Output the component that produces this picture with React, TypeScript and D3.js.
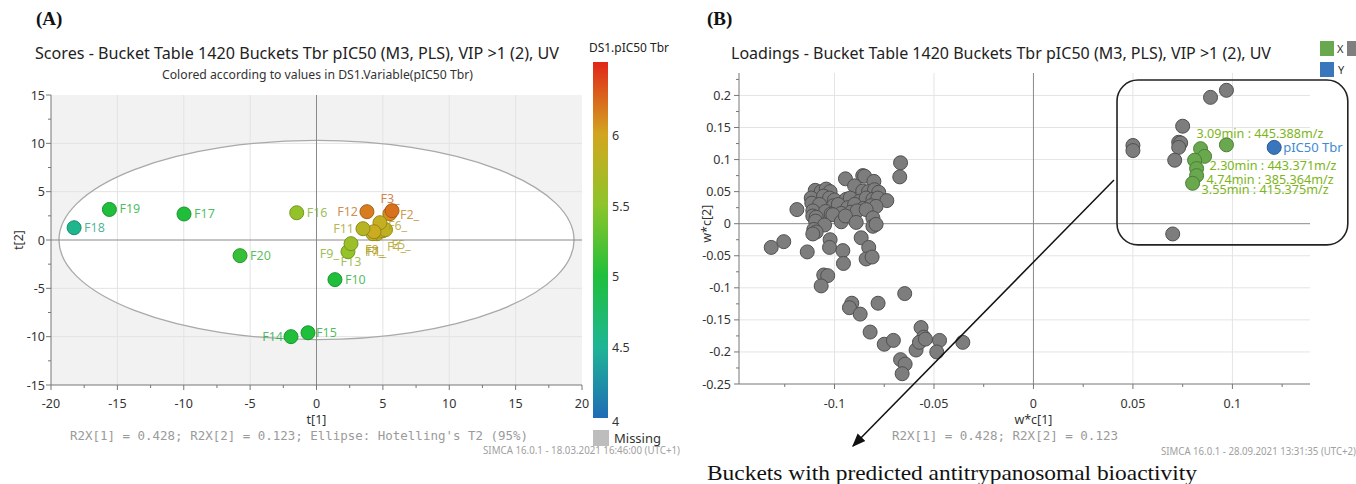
import React from 'react';
import * as d3 from 'd3';

// ---------- Panel A: scores ----------
const scoreNames = ['F1_', 'F2_', 'F3_', 'F4_', 'F5_', 'F6_', 'F7_', 'F8_', 'F9_', 'F10', 'F11', 'F12', 'F13', 'F14', 'F15', 'F16', 'F17', 'F18', 'F19', 'F20'];
const scoreT1 = [4.56, 5.53, 5.69, 5.0, 5.2, 4.78, 4.25, 4.33, 2.37, 1.39, 3.5, 3.8, 2.6, -1.92, -0.64, -1.49, -9.98, -18.26, -15.6, -5.76];
const scoreT2 = [0.65, 2.72, 3.03, 0.96, 1.07, 1.79, 0.65, 0.86, -1.21, -4.1, 1.17, 2.93, -0.38, -10.0, -9.6, 2.82, 2.69, 1.27, 3.16, -1.62];
const scorePIC50 = [5.85, 6.1, 6.22, 5.9, 5.85, 5.9, 5.85, 5.95, 5.55, 5.0, 5.8, 6.17, 5.6, 5.0, 5.0, 5.55, 5.0, 4.55, 5.0, 5.1];
// label placement (style only)
const labelDx = [-10, 10, -2, 4, 6, 8, -8, -9, -9, 10, -9, -9, 0, -8, 8, 10, 10, 10, 10, 10];
const labelDy = [22, 5, -8, 20, 19, 7, 22, 22, 6, 4, 4, 4, 22, 4, 4, 4, 4, 4, 4, 4];
const labelAnchor = ['start', 'start', 'middle', 'start', 'start', 'start', 'start', 'start', 'end', 'start', 'end', 'end', 'middle', 'end', 'start', 'start', 'start', 'start', 'start', 'start'];

const axisTicksA = [-20, -15, -10, -5, 0, 5, 10, 15, 20];
const yTicksA = [-15, -10, -5, 0, 5, 10, 15];
const ellipseRadii = [19.4, 10.3];

const colorStops = [4, 4.5, 5, 5.5, 6, 6.52];
const colorRange = ['#1f6cb6', '#1fb596', '#1fbf3c', '#8cc52a', '#d2a81f', '#e0261a'];
const colorTicks = [4, 4.5, 5, 5.5, 6];

// ---------- Panel B: loadings ----------
const grayLoadings: [number, number][] = [
  [-0.0668, 0.095], [-0.0672, 0.073],
  [-0.0945, 0.070], [-0.0858, 0.075], [-0.0849, 0.074], [-0.0802, 0.066], [-0.0899, 0.059],
  [-0.1097, 0.052], [-0.1067, 0.050], [-0.1042, 0.054], [-0.1022, 0.050], [-0.0858, 0.051], [-0.0829, 0.050], [-0.0799, 0.053], [-0.0778, 0.049],
  [-0.1117, 0.040], [-0.1055, 0.043], [-0.1025, 0.040], [-0.1000, 0.037], [-0.0941, 0.038], [-0.0921, 0.040], [-0.0874, 0.035], [-0.0841, 0.040], [-0.0807, 0.038], [-0.0782, 0.040], [-0.0737, 0.036],
  [-0.1114, 0.032], [-0.1075, 0.030], [-0.1005, 0.028], [-0.0981, 0.030], [-0.0933, 0.025], [-0.0899, 0.030], [-0.0854, 0.024], [-0.0816, 0.028], [-0.0791, 0.027],
  [-0.1189, 0.022], [-0.1109, 0.020], [-0.1045, 0.019], [-0.1017, 0.015], [-0.0966, 0.016], [-0.0916, 0.018], [-0.0886, 0.020], [-0.0841, 0.022],
  [-0.1109, 0.012], [-0.1092, 0.010], [-0.1008, 0.014], [-0.0966, 0.003], [-0.0945, 0.012], [-0.0891, 0.002], [-0.0807, 0.009],
  [-0.1095, 0.004], [-0.1050, -0.002], [-0.0807, -0.004], [-0.0791, -0.001],
  [-0.1104, -0.009], [-0.1092, -0.013], [-0.1109, -0.016],
  [-0.1318, -0.037], [-0.1255, -0.028], [-0.1137, -0.044],
  [-0.1022, -0.025], [-0.1025, -0.037], [-0.0958, -0.042], [-0.0955, -0.062], [-0.0866, -0.022], [-0.0828, -0.037], [-0.0841, -0.055], [-0.0811, -0.052],
  [-0.1054, -0.080], [-0.1034, -0.081], [-0.1067, -0.097],
  [-0.0913, -0.124], [-0.0925, -0.131], [-0.0871, -0.141], [-0.0781, -0.124], [-0.0647, -0.109],
  [-0.0821, -0.169], [-0.0750, -0.188], [-0.0704, -0.182],
  [-0.0668, -0.212], [-0.0645, -0.219], [-0.0660, -0.234],
  [-0.0565, -0.162], [-0.0551, -0.177], [-0.0590, -0.197], [-0.0573, -0.185], [-0.0543, -0.180], [-0.0472, -0.182], [-0.0486, -0.200], [-0.0355, -0.185],
  [0.097, 0.208], [0.089, 0.197], [0.075, 0.152], [0.073, 0.127], [0.074, 0.126], [0.073, 0.119], [0.071, 0.099], [0.050, 0.122], [0.050, 0.114], [0.070, -0.016],
];
const greenLoadings: [number, number][] = [
  [0.097, 0.123], [0.084, 0.117], [0.086, 0.105], [0.081, 0.099], [0.082, 0.086], [0.082, 0.075], [0.080, 0.063],
];
const greenNames = ['3.09min : 445.388m/z', '', '2.30min : 443.371m/z', '', '4.74min : 385.364m/z', '', '3.55min : 415.375m/z'];
const greenDx = [-30, 0, 5, 0, 10, 0, 9];
const greenDy = [-7, 0, 14, 0, 15, 0, 11];
const yLoading: [number, number] = [0.121, 0.119];
const yLoadingName = 'pIC50 Tbr';

const xTicksB = [-0.1, -0.05, 0, 0.05, 0.1];
const yTicksB = [-0.25, -0.2, -0.15, -0.1, -0.05, 0, 0.05, 0.1, 0.15, 0.2];
const highlightBox = [0.042, 0.158, 0.224, -0.033];

const SANS = '"Noto Sans", "Open Sans", sans-serif';
const MONO = '"DejaVu Sans Mono", "Liberation Mono", monospace';
const SERIF = '"Liberation Serif", "DejaVu Serif", serif';

const fmt = (v: number) => String(+v.toFixed(3));

const App: React.FC = () => {
  // Panel A scales
  const xA = d3.scaleLinear().domain([-20, 20]).range([51, 582]);
  const yA = d3.scaleLinear().domain([-15, 15]).range([385, 95]);
  const color = d3.scaleLinear<string>().domain(colorStops).range(colorRange).interpolate(d3.interpolateRgb);
  const cbY = d3.scaleLinear().domain([4, 6.52]).range([418, 62]);

  // Panel B scales
  const xB = d3.scaleLinear().domain([-0.148, 0.139]).range([739, 1310]);
  const yB = d3.scaleLinear().domain([-0.25, 0.235]).range([384, 73]);

  const minorA = d3.range(-20, 20.01, 2.5);
  const minorAy = d3.range(-15, 15.01, 2.5);
  const minorBx = d3.range(-0.125, 0.139, 0.025);
  const minorBy = d3.range(-0.25, 0.236, 0.025);

  const gradStops = d3.range(0, 1.0001, 0.05).map((t) => 4 + t * 2.52);

  const order = d3.range(scoreNames.length);

  return (
    <svg width={1356} height={484} style={{ position: 'absolute', left: 0, top: 0, background: '#fff' }} fontFamily={SANS}>
      <defs>
        <linearGradient id="cb" x1="0" y1="1" x2="0" y2="0">
          {gradStops.map((v, i) => (
            <stop key={i} offset={(v - 4) / 2.52} stopColor={color(v)} />
          ))}
        </linearGradient>
        <marker id="arrowHead" viewBox="0 0 10 10" refX="9" refY="5" markerWidth="9" markerHeight="9" orient="auto">
          <path d="M0,1 L10,5 L0,9 z" fill="#111" />
        </marker>
      </defs>

      {/* ================= Panel A ================= */}
      <text x={36} y={25} fontFamily={SERIF} fontWeight="bold" fontSize={19} fill="#111">(A)</text>
      <text x={35} y={59} fontSize={16.5} fill="#222" textLength={524} lengthAdjust="spacingAndGlyphs">
        Scores - Bucket Table 1420 Buckets Tbr pIC50 (M3, PLS), VIP &gt;1 (2), UV
      </text>
      <text x={162} y={79} fontSize={12} fill="#333" textLength={311} lengthAdjust="spacingAndGlyphs">
        Colored according to values in DS1.Variable(pIC50 Tbr)
      </text>

      <rect x={xA(-20)} y={yA(15)} width={xA(20) - xA(-20)} height={yA(-15) - yA(15)} fill="#f2f2f2" />
      <ellipse cx={xA(0)} cy={yA(0)} rx={xA(ellipseRadii[0]) - xA(0)} ry={yA(0) - yA(ellipseRadii[1])} fill="#fff" />
      {axisTicksA.filter((t) => t !== 0 && Math.abs(t) !== 20).map((t) => (
        <line key={'gx' + t} x1={xA(t)} x2={xA(t)} y1={yA(15)} y2={yA(-15)} stroke="#e3e3e3" />
      ))}
      {yTicksA.filter((t) => t !== 0 && Math.abs(t) !== 15).map((t) => (
        <line key={'gy' + t} y1={yA(t)} y2={yA(t)} x1={xA(-20)} x2={xA(20)} stroke="#e3e3e3" />
      ))}
      <ellipse cx={xA(0)} cy={yA(0)} rx={xA(ellipseRadii[0]) - xA(0)} ry={yA(0) - yA(ellipseRadii[1])} fill="none" stroke="#a9a9a9" strokeWidth={1.3} />
      <line x1={xA(0)} x2={xA(0)} y1={yA(15)} y2={yA(-15)} stroke="#8a8a8a" />
      <line y1={yA(0)} y2={yA(0)} x1={xA(-20)} x2={xA(20)} stroke="#8a8a8a" />

      {/* axes A */}
      <line x1={xA(-20)} x2={xA(-20)} y1={yA(15)} y2={yA(-15)} stroke="#777" />
      <line x1={xA(-20)} x2={xA(20)} y1={yA(-15)} y2={yA(-15)} stroke="#777" />
      {minorAy.map((t) => (
        <line key={'ty' + t} x1={xA(-20) - (t % 5 === 0 ? 5 : 3)} x2={xA(-20)} y1={yA(t)} y2={yA(t)} stroke="#777" />
      ))}
      {minorA.map((t) => (
        <line key={'tx' + t} y1={yA(-15)} y2={yA(-15) + (t % 5 === 0 ? 5 : 3)} x1={xA(t)} x2={xA(t)} stroke="#777" />
      ))}
      {yTicksA.map((t) => (
        <text key={'ly' + t} x={45} y={yA(t) + 4.5} textAnchor="end" fontSize={12.5} fill="#333">{t}</text>
      ))}
      {axisTicksA.map((t) => (
        <text key={'lx' + t} x={xA(t)} y={408} textAnchor="middle" fontSize={12.5} fill="#333">{t}</text>
      ))}
      <text x={xA(0)} y={424} textAnchor="middle" fontSize={12.5} fill="#333">t[1]</text>
      <text transform={`translate(23,${yA(0)}) rotate(-90)`} textAnchor="middle" fontSize={12.5} fill="#333">t[2]</text>

      {/* score points */}
      {order.map((i) => {
        const c = color(scorePIC50[i]);
        return (
          <circle key={'p' + i} cx={xA(scoreT1[i])} cy={yA(scoreT2[i])} r={7} fill={c}
            stroke={d3.color(c)!.darker(0.7).formatHex()} strokeWidth={1} />
        );
      })}
      {order.map((i) => {
        const c = d3.color(color(scorePIC50[i]))!.darker(0.3).formatHex();
        return (
          <text key={'pl' + i} x={xA(scoreT1[i]) + labelDx[i]} y={yA(scoreT2[i]) + labelDy[i]}
            textAnchor={labelAnchor[i] as any} fontSize={12.5} fill={c} fillOpacity={0.8}>{scoreNames[i]}</text>
        );
      })}

      {/* colour bar */}
      <text x={589} y={52} fontSize={12} fill="#222" textLength={80} lengthAdjust="spacingAndGlyphs">DS1.pIC50 Tbr</text>
      <rect x={593} y={cbY(6.52)} width={15} height={cbY(4) - cbY(6.52)} fill="url(#cb)" />
      {colorTicks.map((t) => (
        <text key={'cb' + t} x={612} y={cbY(t) + (t === 4 ? 8 : 4.5)} fontSize={12.5} fill="#333">{t}</text>
      ))}
      <rect x={593} y={430} width={16} height={16} fill="#bdbdbd" />
      <text x={614} y={443} fontSize={13} fill="#333">Missing</text>

      <text x={70} y={440} fontFamily={MONO} fontSize={12.3} fill="#9a9a9a" textLength={458} lengthAdjust="spacingAndGlyphs">
        R2X[1] = 0.428; R2X[2] = 0.123; Ellipse: Hotelling's T2 (95%)
      </text>
      <text x={483} y={454} fontSize={10} fill="#a0a0a0" textLength={197} lengthAdjust="spacingAndGlyphs">
        SIMCA 16.0.1 - 18.03.2021 16:46:00 (UTC+1)
      </text>

      {/* ================= Panel B ================= */}
      <text x={707} y={25} fontFamily={SERIF} fontWeight="bold" fontSize={19} fill="#111">(B)</text>
      <text x={731} y={59} fontSize={16.5} fill="#222" textLength={540} lengthAdjust="spacingAndGlyphs">
        Loadings - Bucket Table 1420 Buckets Tbr pIC50 (M3, PLS), VIP &gt;1 (2), UV
      </text>

      {/* legend */}
      <rect x={1320} y={41} width={14} height={15} fill="#6aa84f" />
      <text x={1337} y={53} fontSize={11} fill="#333">X</text>
      <rect x={1347} y={41} width={10} height={15} fill="#7f7f7f" />
      <rect x={1320} y={62} width={14} height={15} fill="#3a76bb" />
      <text x={1338} y={74} fontSize={11} fill="#333">Y</text>

      {xTicksB.filter((t) => t !== 0).map((t) => (
        <line key={'bgx' + t} x1={xB(t)} x2={xB(t)} y1={yB(0.235)} y2={yB(-0.25)} stroke="#e4e4e4" />
      ))}
      {yTicksB.filter((t) => t !== 0 && t !== -0.25).map((t) => (
        <line key={'bgy' + t} y1={yB(t)} y2={yB(t)} x1={xB(-0.148)} x2={xB(0.139)} stroke="#e4e4e4" />
      ))}
      <line x1={xB(0)} x2={xB(0)} y1={yB(0.235)} y2={yB(-0.25)} stroke="#8a8a8a" />
      <line y1={yB(0)} y2={yB(0)} x1={xB(-0.148)} x2={xB(0.139)} stroke="#8a8a8a" />

      <line x1={xB(-0.148)} x2={xB(-0.148)} y1={yB(0.235)} y2={yB(-0.25)} stroke="#777" />
      <line x1={xB(-0.148)} x2={xB(0.139)} y1={yB(-0.25)} y2={yB(-0.25)} stroke="#777" />
      {minorBy.map((t, i) => (
        <line key={'bty' + i} x1={xB(-0.148) - (i % 2 === 0 ? 5 : 3)} x2={xB(-0.148)} y1={yB(t)} y2={yB(t)} stroke="#777" />
      ))}
      {minorBx.map((t, i) => (
        <line key={'btx' + i} y1={yB(-0.25)} y2={yB(-0.25) + (i % 2 === 1 ? 5 : 3)} x1={xB(t)} x2={xB(t)} stroke="#777" />
      ))}
      {yTicksB.map((t) => (
        <text key={'bly' + t} x={731} y={yB(t) + 4.5} textAnchor="end" fontSize={12.5} fill="#333">{fmt(t)}</text>
      ))}
      {xTicksB.map((t) => (
        <text key={'blx' + t} x={xB(t)} y={408} textAnchor="middle" fontSize={12.5} fill="#333">{fmt(t)}</text>
      ))}
      <text x={xB(0)} y={424} textAnchor="middle" fontSize={12.5} fill="#333">w*c[1]</text>
      <text transform={`translate(711,${yB(0)}) rotate(-90)`} textAnchor="middle" fontSize={12.5} fill="#333">w*c[2]</text>

      {grayLoadings.map((d, i) => (
        <circle key={'g' + i} cx={xB(d[0])} cy={yB(d[1])} r={7} fill="#7d7d7d" stroke="#505050" strokeWidth={1} />
      ))}
      {greenLoadings.map((d, i) => (
        <circle key={'gr' + i} cx={xB(d[0])} cy={yB(d[1])} r={7} fill="#6aa84f" stroke="#4a7f33" strokeWidth={1} />
      ))}
      <circle cx={xB(yLoading[0])} cy={yB(yLoading[1])} r={7} fill="#3a76bb" stroke="#285a96" strokeWidth={1} />
      {greenLoadings.map((d, i) => greenNames[i] ? (
        <text key={'gl' + i} x={xB(d[0]) + greenDx[i]} y={yB(d[1]) + greenDy[i]} fontSize={13} fill="#7cb518"
          textLength={127} lengthAdjust="spacingAndGlyphs">{greenNames[i]}</text>
      ) : null)}
      <text x={xB(yLoading[0]) + 9} y={yB(yLoading[1]) + 5} fontSize={13} fill="#3f8ad3">{yLoadingName}</text>

      {/* highlight box + arrow */}
      <rect x={xB(highlightBox[0])} y={yB(highlightBox[2])} width={xB(highlightBox[1]) - xB(highlightBox[0])}
        height={yB(highlightBox[3]) - yB(highlightBox[2])} rx={21} ry={21} fill="none" stroke="#222" strokeWidth={1.6} />
      <line x1={1114} y1={180} x2={853} y2={446} stroke="#111" strokeWidth={1.5} markerEnd="url(#arrowHead)" />

      <text x={892} y={440} fontFamily={MONO} fontSize={12.3} fill="#9a9a9a" textLength={226} lengthAdjust="spacingAndGlyphs">
        R2X[1] = 0.428; R2X[2] = 0.123
      </text>
      <text x={1161} y={455} fontSize={10} fill="#a0a0a0" textLength={195} lengthAdjust="spacingAndGlyphs">
        SIMCA 16.0.1 - 28.09.2021 13:31:35 (UTC+2)
      </text>
      <text x={707} y={480} fontFamily={SERIF} fontSize={21} fill="#111" textLength={490} lengthAdjust="spacingAndGlyphs">
        Buckets with predicted antitrypanosomal bioactivity
      </text>
    </svg>
  );
};

export default App;
